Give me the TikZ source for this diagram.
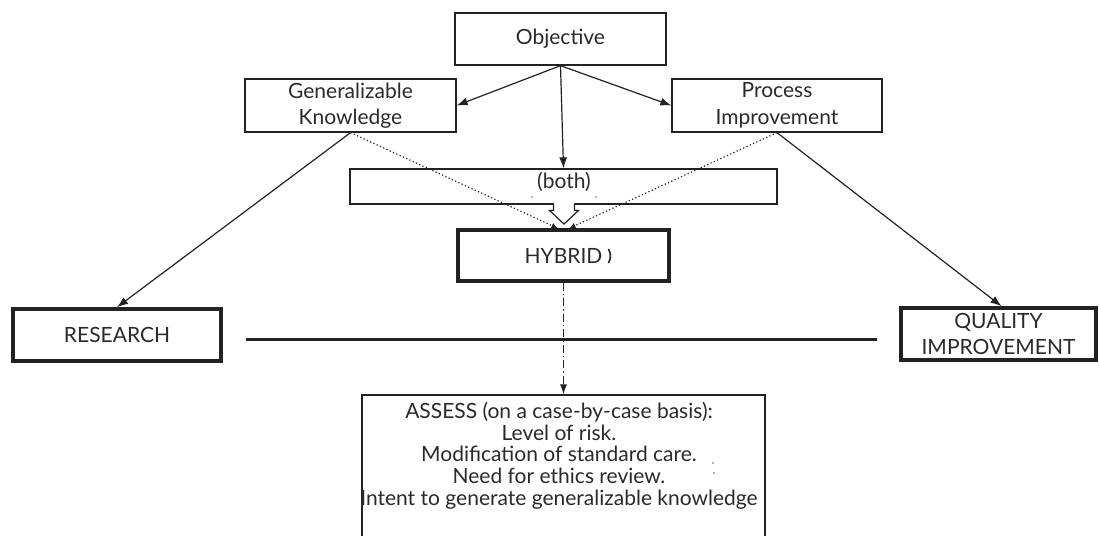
\documentclass[tikz,border=0pt]{standalone}
\usepackage{fontspec}
\setmainfont{Lato}
\usetikzlibrary{arrows.meta}
\definecolor{ink}{HTML}{222222}
\definecolor{txt}{HTML}{2A2A2A}
\begin{document}
\begin{tikzpicture}[x=1pt,y=-1pt,
  box/.style={draw=ink,line width=1.3pt,inner sep=0pt,align=center,text=txt,
    font=\fontsize{21}{26.5}\selectfont},
  thickbox/.style={box,line width=3.6pt},
  plain/.style={inner sep=0pt,align=center,text=txt,font=\fontsize{21}{21.6}\selectfont},
  arr/.style={draw=ink,line width=1.2pt,-{Latex[length=11pt,width=8pt]}},
  dotline/.style={draw=ink,line width=1.2pt,dash pattern=on 1.2pt off 2.4pt,-{Latex[length=6pt,width=6pt]}},
  dashdotline/.style={draw=ink,line width=1.2pt,dash pattern=on 8pt off 3pt on 1.5pt off 3pt,-{Latex[length=10pt,width=7pt]}},
  speck/.style={fill=ink!70,draw=none}]
\useasboundingbox (0,0) rectangle (1099,535);
\clip (0,0) rectangle (1099,535);

% boxes
\node[box,minimum width=211pt,minimum height=52pt] (obj) at (560.5,39) {Objective};
\node[box,minimum width=211pt,minimum height=53pt] (gen) at (350.5,105.5) {Generalizable\\Knowledge};
\node[box,minimum width=210pt,minimum height=53pt] (proc) at (777,105.5) {Process\\Improvement};
\node[box,minimum width=427pt,minimum height=35pt] (both) at (563.5,186.5) {};
\node[plain] (bothtxt) at (564,182) {(both)};
\node[thickbox,minimum width=211pt,minimum height=51pt] (hyb) at (563.5,255.5) {HYBRID};
\node[thickbox,minimum width=208pt,minimum height=52pt] (res) at (117,335) {RESEARCH};
\node[thickbox,minimum width=195pt,minimum height=52pt] (qi) at (998.5,334) {QUALITY\\IMPROVEMENT};
\node[box,minimum width=403pt,minimum height=150pt] (assess) at (563.5,470) {};
\node[plain,anchor=base] (assesstxt) at (559,505) {ASSESS (on a case-by-case basis):\\Level of risk.\\Modification of standard care.\\Need for ethics review.\\Intent to generate generalizable knowledge};

% open block arrow from (both) to HYBRID
\draw[white,line width=2pt] (554.1,204) -- (573.9,204);
\draw[ink,line width=1.2pt,fill=white] (553.5,203.4) -- (553.5,210.5) -- (549.5,210.5) -- (564,224) -- (578.5,210.5) -- (574.5,210.5) -- (574.5,203.4);

% horizontal divider
\coordinate (hl1) at (246,339);
\coordinate (hl2) at (877,339);
\draw[ink,line width=3pt] (hl1) -- (hl2);

% connectors
\draw[arr] (obj.south) -- (gen.east);
\draw[arr] (obj.south) -- (proc.west);
\draw[arr] (obj.south) -- (both.north);
\draw[arr] (gen.south) -- (res.north);
\draw[arr] (proc.south) -- ([xshift=3pt]qi.north);
\draw[dotline] (gen.south) -- ([xshift=-6pt]hyb.north);
\draw[dotline] (proc.south) -- ([xshift=6pt]hyb.north);
\draw[dashdotline] (hyb.south) -- (assess.north);

% small marks present in the picture
\draw[ink,line width=1.6pt] (608.5,249) .. controls (611,253) and (611,259) .. (608.5,263);
\fill[speck] (532,197) circle (0.9);
\fill[speck] (596,197) circle (0.9);
\fill[speck] (713,463) circle (0.9);
\fill[speck] (714,473) circle (0.9);
\end{tikzpicture}
\end{document}
